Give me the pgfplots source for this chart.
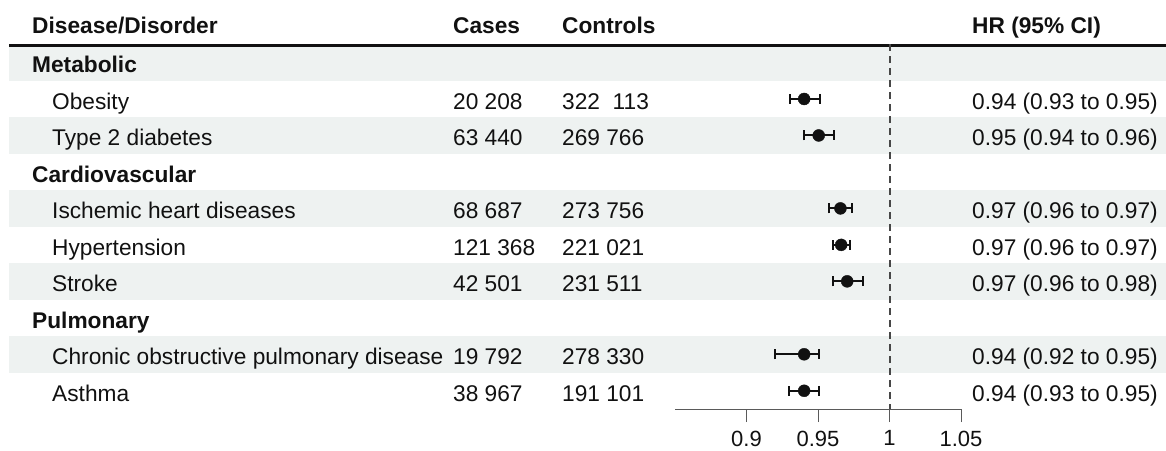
\documentclass[border=0pt]{standalone}
\usepackage{pgfplots}
\pgfplotsset{compat=1.18}
\usepackage{fontspec}
\setmainfont{Liberation Sans}
\definecolor{band}{RGB}{238,242,241}
\definecolor{ink}{RGB}{17,17,17}
\definecolor{axgray}{RGB}{90,90,90}
\begin{document}
\fontsize{22.7}{26}\selectfont
\begin{tikzpicture}
\useasboundingbox (0pt,0pt) rectangle (1166pt,-450pt);
% alternating bands
\foreach \i in {0,2,4,6,8} {
  \fill[band] (9pt,{-(62.5+36.5*\i-18.25)*1pt}) rectangle (1166pt,{-(62.5+36.5*\i+18.25)*1pt});
}
\draw[line width=2.7pt, ink] (9pt,-45.4pt) -- (1166pt,-45.4pt);
% header
\begin{scope}[every node/.style={anchor=base west, inner sep=0pt, text=ink, font=\bfseries}]
\node at (32pt,-33.3pt) {Disease/Disorder};
\node at (453pt,-33.3pt) {Cases};
\node at (562pt,-33.3pt) {Controls};
\node at (972pt,-33.3pt) {HR (95\% CI)};
\end{scope}
\begin{scope}[every node/.style={anchor=base west, inner sep=0pt, text=ink}]
% group headings
\foreach \i/\t in {0/Metabolic,3/Cardiovascular,7/Pulmonary} {
  \node[font=\bfseries] at (32pt,{-(62.5+36.5*\i+10.3)*1pt}) {\t};
}
\foreach \i/\n/\ca/\co/\hr in {
  1/Obesity/20 208/322\ \ 113/0.94 (0.93 to 0.95),
  2/Type 2 diabetes/63 440/269 766/0.95 (0.94 to 0.96),
  4/Ischemic heart diseases/68 687/273 756/0.97 (0.96 to 0.97),
  5/Hypertension/121 368/221 021/0.97 (0.96 to 0.97),
  6/Stroke/42 501/231 511/0.97 (0.96 to 0.98),
  8/Chronic obstructive pulmonary disease/19 792/278 330/0.94 (0.92 to 0.95),
  9/Asthma/38 967/191 101/0.94 (0.93 to 0.95)} {
  \node at (52pt,{-(62.5+36.5*\i+10.3)*1pt}) {\n};
  \node at (453pt,{-(62.5+36.5*\i+10.3)*1pt}) {\ca};
  \node at (562pt,{-(62.5+36.5*\i+10.3)*1pt}) {\co};
  \node at (972pt,{-(62.5+36.5*\i+10.3)*1pt}) {\hr};
}
\end{scope}
\begin{axis}[
  at={(675pt,-409pt)}, anchor=south west,
  scale only axis, width=286pt, height=364.75pt,
  xmin=0.85, xmax=1.05, ymin=-0.5, ymax=9.5,
  y dir=reverse,
  axis x line*=bottom, axis y line=none,
  axis line style={axgray, line width=1pt},
  xtick={0.9,0.95,1,1.05},
  xticklabels={0.9,0.95,1,1.05},
  tick align=outside, major tick length=13pt,
  tick style={axgray, line width=1pt},
  xticklabel style={font=\fontsize{22}{24}\selectfont, text=ink, yshift=-1pt},
  /pgf/number format/assume math mode=true,
  clip=false,
]
\addplot[black!72, line width=2pt, dash pattern=on 7pt off 5pt] coordinates {(1,-0.5) (1,9.5)};
\addplot[only marks, mark=*, mark size=6pt, color=ink, fill=ink,
  error bars/.cd, x dir=both, x explicit,
  error mark=|, error mark options={mark size=5pt, line width=2pt, color=ink},
  error bar style={line width=2pt, color=ink}]
coordinates {
  (0.9403,1) += (0.0111,0) -= (0.0098,0)
  (0.9505,2) += (0.0108,0) -= (0.0105,0)
  (0.9657,4) += (0.0078,0) -= (0.0077,0)
  (0.9662,5) += (0.0060,0) -= (0.0055,0)
  (0.9704,6) += (0.0111,0) -= (0.0101,0)
  (0.9403,8) += (0.0107,0) -= (0.0206,0)
  (0.9403,9) += (0.0107,0) -= (0.0103,0)
};
\end{axis}
\end{tikzpicture}
\end{document}
